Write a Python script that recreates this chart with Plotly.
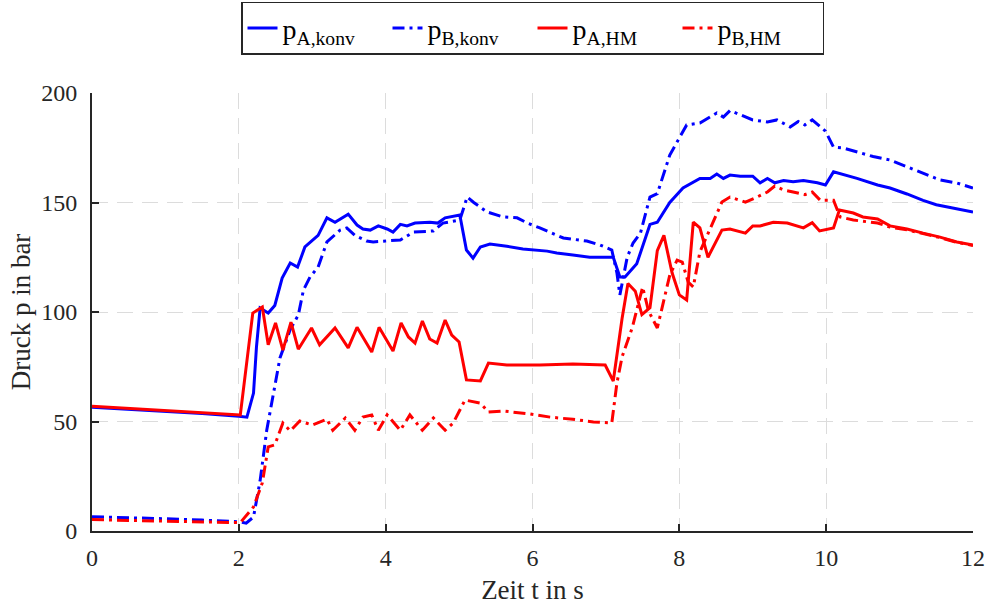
import plotly.graph_objects as go

# (time s, pressure bar)
pA_konv = [(0,56.5),(0.5,55.6),(1.0,54.6),(1.5,53.6),(2.0,52.4),(2.11,52),(2.2,63),(2.24,84),(2.29,101.8),(2.4,99.5),(2.49,103),(2.59,115.5),(2.7,122.4),(2.8,120.5),(2.9,129.7),(3.08,135),(3.2,143),(3.31,141),(3.49,144.7),(3.61,139.7),(3.69,137.9),(3.79,137.4),(3.9,139.3),(4.02,137.9),(4.1,136.5),(4.2,140),(4.29,139.3),(4.4,140.6),(4.6,141),(4.71,140.6),(4.81,143),(5.01,144.3),(5.1,128.3),(5.19,124.6),(5.29,129.7),(5.42,131),(5.65,130),(5.87,128.8),(6.2,127.8),(6.33,126.9),(6.55,126),(6.78,125),(7.0,125),(7.1,125),(7.19,116),(7.26,116),(7.42,122),(7.6,140),(7.7,141),(7.87,150),(8.05,156.6),(8.28,161),(8.42,161),(8.51,163),(8.6,161),(8.69,162.5),(8.83,162),(9.0,162),(9.1,159),(9.2,161),(9.3,159),(9.42,160),(9.55,159.5),(9.69,160),(9.88,159),(9.99,158),(10.1,164),(10.28,162.5),(10.42,161),(10.7,158),(10.87,156.6),(11.1,153.9),(11.32,151),(11.5,149),(11.78,147),(12.0,145.6)]

pB_konv = [(0,6.5),(0.5,6.2),(1.0,5.6),(1.5,5.0),(2.0,4.2),(2.1,3.6),(2.2,6.4),(2.29,23),(2.38,46),(2.56,79),(2.7,92),(2.81,98.6),(2.88,110),(2.97,116),(3.08,120.5),(3.2,132),(3.38,137.4),(3.47,138.4),(3.58,135),(3.74,132.4),(3.83,132),(4.2,132.9),(4.38,136.5),(4.65,137),(4.78,140.6),(5.01,142),(5.11,152.5),(5.2,150),(5.38,145.7),(5.6,143.4),(5.79,143),(5.93,140.6),(6.1,138.4),(6.42,133.8),(6.74,132.4),(6.92,130.6),(7.08,128.3),(7.15,117.8),(7.19,107.8),(7.29,125),(7.37,131.5),(7.47,136),(7.6,152.5),(7.7,154),(7.87,171.7),(8.1,185.4),(8.28,186.3),(8.51,190.9),(8.6,189),(8.69,192),(8.83,190),(9.0,187.7),(9.2,186.8),(9.33,187.7),(9.51,184.5),(9.62,187),(9.71,185.4),(9.81,187.7),(9.99,182.6),(10.1,175.3),(10.23,174.9),(10.42,173),(10.64,171),(10.87,169.4),(11.1,166.2),(11.32,163.5),(11.55,160.3),(11.78,158.9),(12.0,156.6)]

pA_HM = [(0,57),(0.5,56),(1.0,55),(1.5,54),(2.02,53),(2.19,99.5),(2.32,102.3),(2.4,85),(2.5,95),(2.6,82.6),(2.71,95.4),(2.81,83),(2.99,92.7),(3.1,85),(3.31,92.7),(3.49,83.6),(3.61,93),(3.81,81.7),(3.91,93),(4.1,82.2),(4.21,95),(4.31,88.6),(4.4,85.8),(4.5,95.9),(4.6,87.7),(4.7,85.8),(4.81,96.3),(4.9,89.5),(5.0,86.3),(5.1,69),(5.29,68.5),(5.4,76.7),(5.65,75.8),(6.1,75.8),(6.55,76.3),(6.99,75.8),(7.1,68.5),(7.22,97),(7.3,113),(7.4,109.5),(7.49,98.8),(7.6,102),(7.7,128),(7.79,135),(7.9,118),(8.0,107.8),(8.1,105.5),(8.19,141),(8.28,138.4),(8.39,125),(8.58,137.4),(8.69,137.9),(8.9,136),(9.0,139.3),(9.1,139.3),(9.28,141),(9.47,140.6),(9.69,138.4),(9.81,140.8),(9.91,137),(10.1,138.4),(10.18,146.6),(10.37,145.2),(10.5,143.4),(10.7,142.5),(10.87,139.3),(11.1,137.9),(11.32,136),(11.55,134.2),(11.78,132),(12.0,130.6)]

pB_HM = [(0,5.2),(0.5,4.9),(1.0,4.6),(1.5,4.2),(2.02,3.8),(2.2,11),(2.32,22),(2.4,38.4),(2.49,39.3),(2.6,49.3),(2.7,45.7),(2.83,50.2),(3.0,48.4),(3.2,51),(3.28,46),(3.45,51.6),(3.58,46),(3.69,52),(3.81,53),(3.9,46),(4.02,53),(4.2,46),(4.33,53),(4.5,46),(4.65,51.6),(4.81,46),(4.92,49.3),(5.08,59.8),(5.29,58.4),(5.4,54.3),(5.6,54.8),(5.97,53.4),(6.24,52),(6.55,51),(6.83,49.8),(7.08,49.3),(7.15,67.6),(7.22,79.5),(7.36,93),(7.5,111.4),(7.58,100.5),(7.7,92.7),(7.78,104.6),(7.87,116.9),(7.97,123.7),(8.04,122.8),(8.12,113.7),(8.19,111.4),(8.28,127.4),(8.42,138.4),(8.58,150.2),(8.69,152.5),(8.9,150.2),(9.06,152.5),(9.2,154.8),(9.3,157.5),(9.42,155.7),(9.55,154.8),(9.71,153.6),(9.81,154.8),(9.92,151),(10.1,151),(10.19,143.4),(10.37,142),(10.7,140.6),(10.87,138.8),(11.1,137.5),(11.32,135.8),(11.55,134),(11.78,131.8),(12.0,130.4)]

x_ticks = [0, 2, 4, 6, 8, 10, 12]
y_ticks = [0, 50, 100, 150, 200]

series = [
    ("p<sub>A,konv</sub>", pA_konv, "#0000ff", "solid"),
    ("p<sub>B,konv</sub>", pB_konv, "#0000ff", "12px,5px,3px,5px"),
    ("p<sub>A,HM</sub>", pA_HM, "#ff0000", "solid"),
    ("p<sub>B,HM</sub>", pB_HM, "#ff0000", "12px,5px,3px,5px"),
]

fig = go.Figure()
for name, data, color, dash in series:
    fig.add_trace(go.Scatter(
        x=[d[0] for d in data], y=[d[1] for d in data], name=name, mode="lines",
        line=dict(color=color, width=3, dash=dash)))

FONT = "Liberation Serif"
axis_common = dict(
    showgrid=True, gridcolor="#dcdcdc", griddash="16px,9px", gridwidth=1,
    showline=True, linecolor="#262626", linewidth=2,
    ticks="inside", ticklen=7, tickwidth=2, tickcolor="#262626",
    zeroline=False, automargin=False,
    tickfont=dict(family=FONT, size=24, color="#262626"),
)
fig.update_xaxes(range=[0, 12], tickvals=x_ticks, ticktext=[str(v) for v in x_ticks],
                 title=dict(text="Zeit t in s", font=dict(family=FONT, size=27, color="#262626"), standoff=10),
                 ticklabelstandoff=4, **axis_common)
fig.update_yaxes(range=[0, 200], tickvals=y_ticks, ticktext=[str(v) for v in y_ticks],
                 title=dict(text="Druck p in bar", font=dict(family=FONT, size=27, color="#262626"), standoff=3),
                 ticklabelstandoff=8, **axis_common)

fig.update_layout(
    width=986, height=605,
    margin=dict(l=92, r=13, t=93, b=74, autoexpand=False),
    paper_bgcolor="white", plot_bgcolor="white",
    font=dict(family=FONT, color="#262626"),
    showlegend=True,
    legend=dict(orientation="h", x=0.5, xanchor="center", y=1.148, yanchor="middle",
                bgcolor="white", bordercolor="#262626", borderwidth=1.5,
                font=dict(family=FONT, size=28, color="#000000"),
                entrywidth=100, tracegroupgap=0),
)

fig.write_html("out.html")
